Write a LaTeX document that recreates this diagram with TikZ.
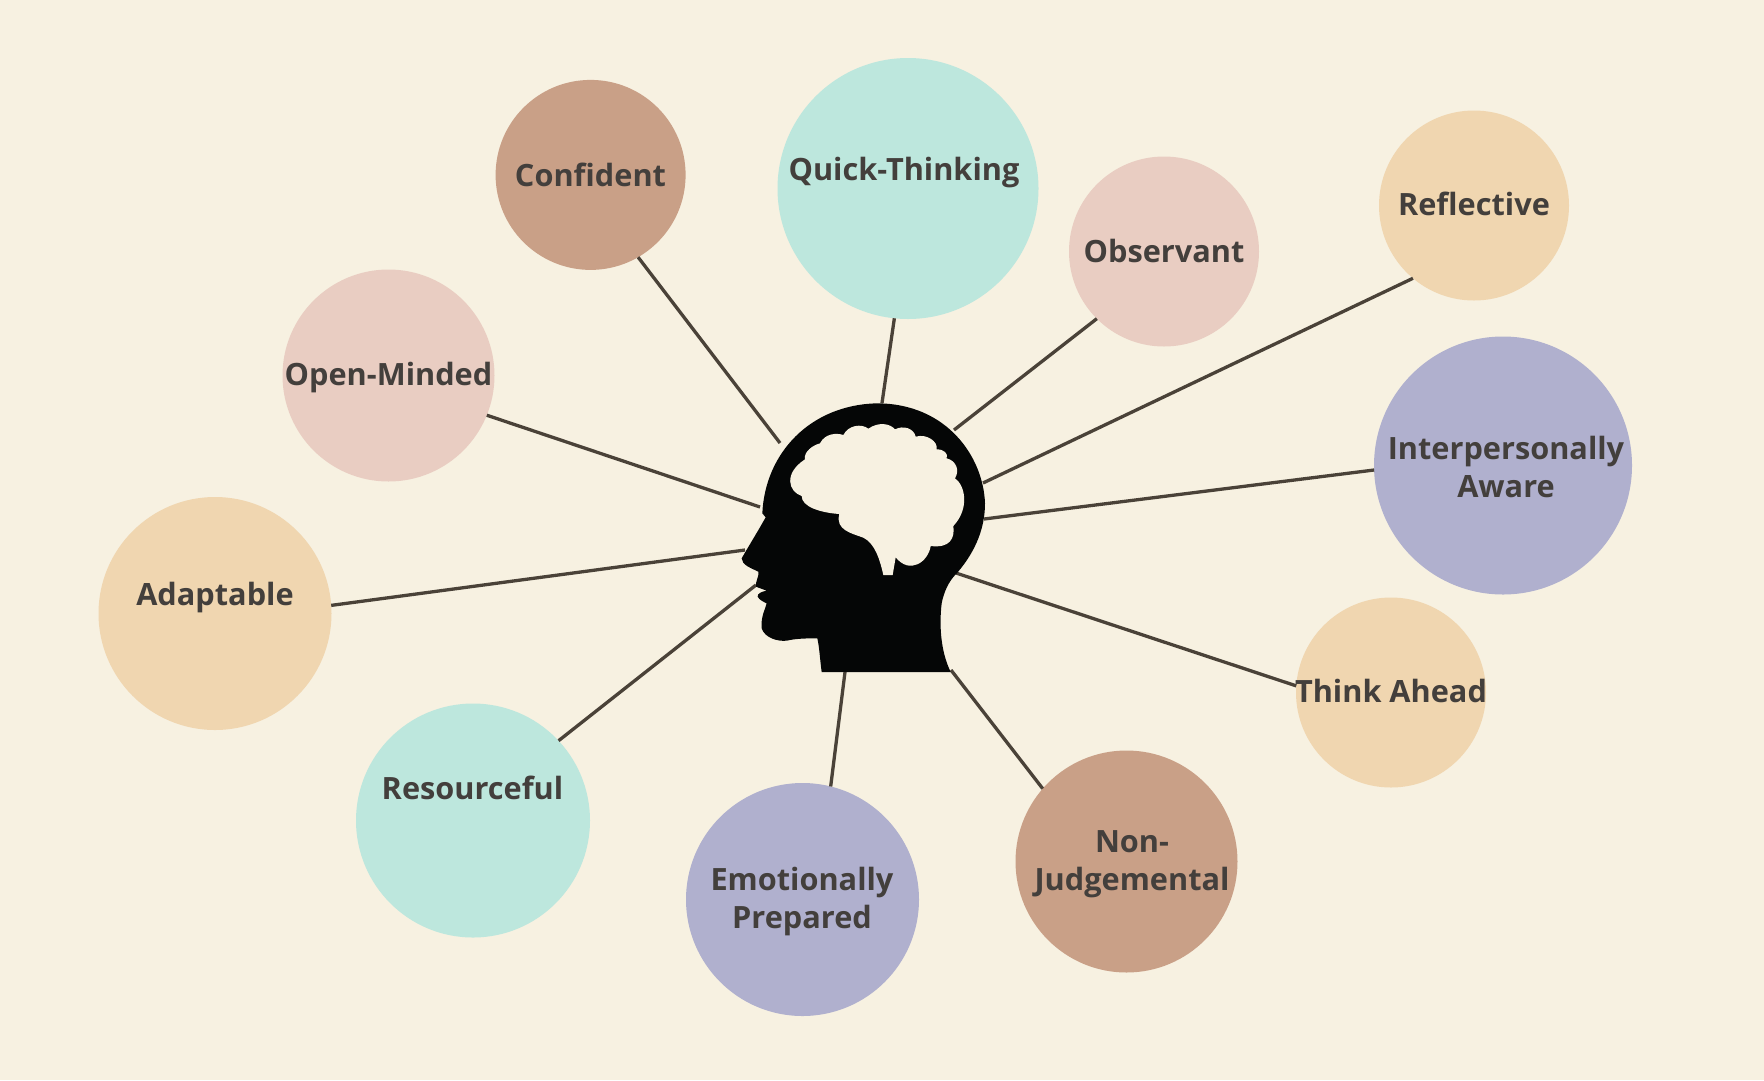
\documentclass[tikz,border=0pt]{standalone}
\usepackage{fontspec}
\setmainfont{Open Sans}
\definecolor{bg}{HTML}{F7F1E1}
\definecolor{brownc}{HTML}{C9A087}
\definecolor{mintc}{HTML}{BDE7DD}
\definecolor{pinkc}{HTML}{E9CDC2}
\definecolor{tanc}{HTML}{F0D6B0}
\definecolor{lavc}{HTML}{B0B0CE}
\definecolor{linec}{HTML}{4A4238}
\definecolor{txt}{HTML}{433F3C}
\definecolor{headc}{HTML}{050606}
\tikzset{
  bubble/.style={circle,inner sep=0pt,outer sep=0pt,minimum size=#1},
  lab/.style={align=center,text=txt,font=\fontsize{30.7}{38}\selectfont\bfseries,inner sep=0pt},
  link/.style={draw=linec,line width=3.3pt}
}
\begin{document}
\begin{tikzpicture}[x=1pt,y=-1pt]
\fill[bg] (0,0) rectangle (1764,1080);
\useasboundingbox (0,0) rectangle (1764,1080);
\node[bubble=190pt,fill=brownc] (conf) at (590.6,174.9) {};
\node[bubble=261pt,fill=mintc] (quick) at (908,188.5) {};
\node[bubble=190pt,fill=pinkc] (obs) at (1164,251.5) {};
\node[bubble=190pt,fill=tanc] (refl) at (1474,205.5) {};
\node[bubble=258pt,fill=lavc] (inter) at (1503,465.5) {};
\node[bubble=190pt,fill=tanc] (think) at (1391,692.5) {};
\node[bubble=222pt,fill=brownc] (nonj) at (1126.5,861.5) {};
\node[bubble=233pt,fill=lavc] (emo) at (802.5,899.5) {};
\node[bubble=234pt,fill=mintc] (res) at (473,820.5) {};
\node[bubble=233pt,fill=tanc] (adapt) at (215,613.5) {};
\node[bubble=212pt,fill=pinkc] (open) at (388.5,375.5) {};
\coordinate (hconf) at (780,443);
\coordinate (hquick) at (882,403);
\coordinate (hobs) at (954,430);
\coordinate (hrefl) at (983,483);
\coordinate (hinter) at (984,519);
\coordinate (hthink) at (956,573);
\coordinate (hnonj) at (951,670);
\coordinate (hemo) at (845,672);
\coordinate (hres) at (756,585);
\coordinate (hadapt) at (745,550);
\coordinate (hopen) at (760,507);
\draw[link] (conf.-60) -- (hconf);
\draw[link] (quick.-96.4) -- (hquick);
\draw[link] (obs.-135.5) -- (hobs);
\draw[link] (refl.-130.7) -- (hrefl);
\draw[link] (inter.-178.5) -- (hinter);
\draw[link] (think.176.6) -- (hthink);
\draw[link] (nonj.139.5) -- (hnonj);
\draw[link] (emo.76.8) -- (hemo);
\draw[link] (res.43) -- (hres);
\draw[link] (adapt.4.4) -- (hadapt);
\draw[link] (open.-22) -- (hopen);
\begin{scope}[shift={(720,390)},x=.33333pt,y=-.33333pt]
\fill[headc] (305,846) -- (692,846) .. controls (660,780) and (658,700) .. (665,640)
  .. controls (675,590) and (695,565) .. (712,548)
  .. controls (770,480) and (795,410) .. (795,340)
  .. controls (790,200) and (680,40) .. (470,40)
  .. controls (270,45) and (135,190) .. (127,370)
  -- (137,382) .. controls (110,430) and (85,470) .. (65,505)
  .. controls (65,525) and (95,535) .. (115,545)
  .. controls (118,560) and (105,575) .. (108,590)
  .. controls (120,595) and (130,598) .. (140,602)
  .. controls (125,605) and (112,610) .. (113,620)
  .. controls (118,630) and (130,635) .. (140,640)
  .. controls (135,660) and (122,680) .. (125,715)
  .. controls (135,745) and (175,755) .. (200,752)
  .. controls (230,745) and (265,745) .. (292,745)
  .. controls (298,770) and (300,810) .. (305,846) -- cycle;
\fill[bg] (245,318) .. controls (205,305) and (190,250) .. (255,208)
  .. controls (250,185) and (280,165) .. (300,160)
  .. controls (315,130) and (350,128) .. (370,135)
  .. controls (385,105) and (425,100) .. (445,116)
  .. controls (475,95) and (510,100) .. (525,118)
  .. controls (550,105) and (582,115) .. (587,140)
  .. controls (620,130) and (655,155) .. (650,178)
  .. controls (672,178) and (685,190) .. (680,205)
  .. controls (708,212) and (720,240) .. (705,265)
  .. controls (735,285) and (750,355) .. (700,408)
  .. controls (705,445) and (690,475) .. (632,468)
  .. controls (625,515) and (570,555) .. (527,502)
  -- (518,555) -- (490,555)
  .. controls (480,510) and (465,460) .. (430,443)
  .. controls (395,430) and (345,420) .. (358,372)
  .. controls (300,368) and (245,350) .. (245,318) -- cycle;
\end{scope}
\node[lab] (tconf) at (590.5,174.5) {Confident};
\node[lab] (tquick) at (904,172.5) {Quick-Thinking};
\node[lab] (tobs) at (1164,251) {Observant};
\node[lab] (trefl) at (1474,204) {Reflective};
\node[lab] (tinter) at (1506,467) {Interpersonally\\Aware};
\node[lab] (tthink) at (1391,691) {Think Ahead};
\node[lab] (tnonj) at (1132,864.5) {Non-\\Judgemental};
\node[lab] (temo) at (802,902) {Emotionally\\Prepared};
\node[lab] (tres) at (472.5,788) {Resourceful};
\node[lab] (tadapt) at (215,597.5) {Adaptable};
\node[lab] (topen) at (388.5,377.5) {Open-Minded};
\end{tikzpicture}
\end{document}
